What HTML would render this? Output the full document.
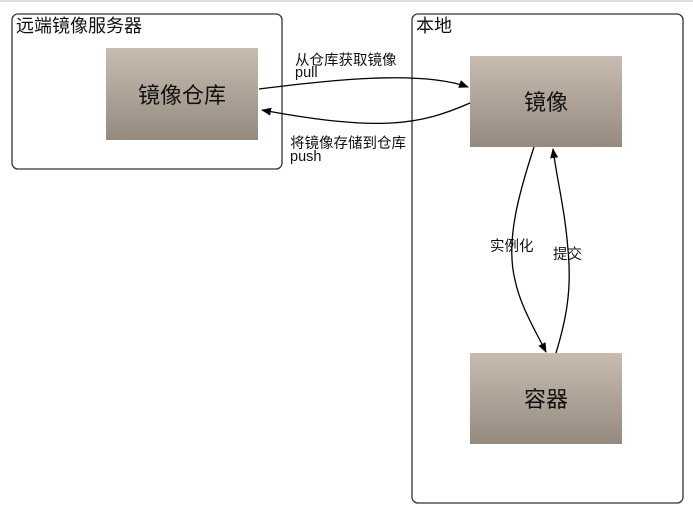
<!DOCTYPE html>
<html><head><meta charset="utf-8"><style>
html,body{margin:0;padding:0;background:#fff;width:693px;height:512px;overflow:hidden}
svg{display:block}
text{font-family:"Liberation Sans","Noto Sans CJK SC",sans-serif;fill:#111}
</style></head><body>
<svg width="693" height="512" viewBox="0 0 693 512">
<defs>
<linearGradient id="g" x1="0" y1="0" x2="0" y2="1">
<stop offset="0" stop-color="#c8bcb0"/><stop offset="1" stop-color="#958a80"/>
</linearGradient>
<marker id="a" markerWidth="10" markerHeight="8" refX="9" refY="4" orient="auto" markerUnits="userSpaceOnUse">
<path d="M0,0 L10,4 L0,8 z" fill="#000"/>
</marker>
</defs>
<line x1="0" y1="1" x2="693" y2="1" stroke="#ddd" stroke-width="2"/>
<rect x="12" y="14" width="270" height="155" rx="6" fill="none" stroke="#333" stroke-width="1.3"/>
<rect x="412" y="14" width="271" height="489" rx="6" fill="none" stroke="#333" stroke-width="1.3"/>
<text x="16" y="32" font-size="18">远端镜像服务器</text>
<text x="416" y="32" font-size="18">本地</text>
<rect x="106" y="48" width="152" height="92" fill="url(#g)"/>
<rect x="470" y="56" width="152" height="91" fill="url(#g)"/>
<rect x="470" y="353" width="152" height="91" fill="url(#g)"/>
<text x="182" y="103" font-size="22" text-anchor="middle">镜像仓库</text>
<text x="546" y="110" font-size="22" text-anchor="middle">镜像</text>
<text x="546" y="407" font-size="22" text-anchor="middle">容器</text>
<path d="M259,89 C330,80 420,70 468,87" fill="none" stroke="#000" stroke-width="1.3" marker-end="url(#a)"/>
<path d="M470,103 C420,125 380,132 262,110" fill="none" stroke="#000" stroke-width="1.3" marker-end="url(#a)"/>
<path d="M534,147 C520,190 505,240 515,280 C520,305 535,330 546,352" fill="none" stroke="#000" stroke-width="1.3" marker-end="url(#a)"/>
<path d="M556,353 C566,320 572,290 568,250 C565,210 557,180 553,149" fill="none" stroke="#000" stroke-width="1.3" marker-end="url(#a)"/>
<text x="295" y="65" font-size="14.5">从仓库获取镜像</text>
<text x="295" y="77" font-size="14.5">pull</text>
<text x="290" y="148" font-size="14.5">将镜像存储到仓库</text>
<text x="290" y="161" font-size="14.5">push</text>
<text x="490" y="251" font-size="14.5">实例化</text>
<text x="553" y="259" font-size="14.5">提交</text>
</svg>
</body></html>
